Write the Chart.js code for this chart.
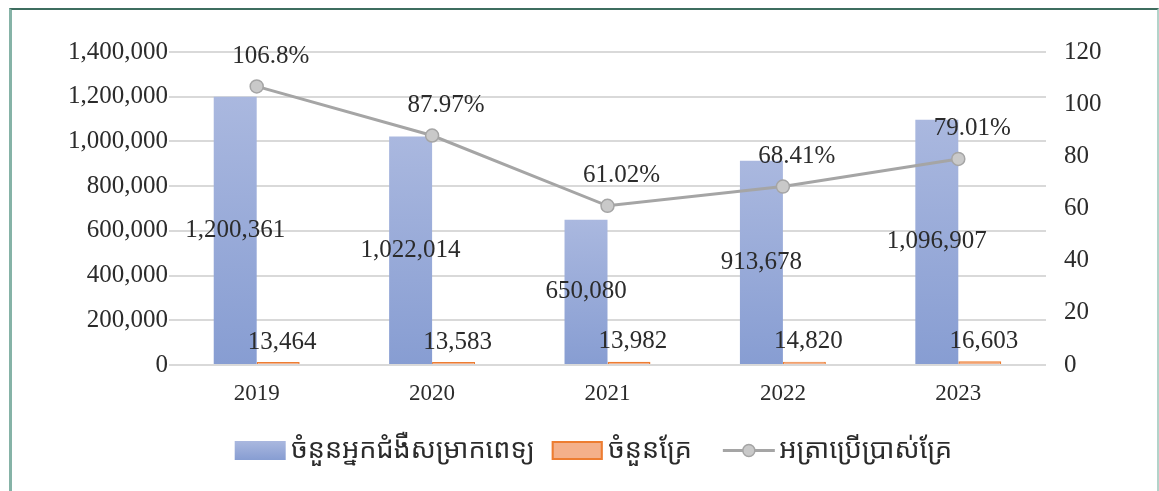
<!DOCTYPE html>
<html>
<head>
<meta charset="utf-8">
<script src="https://cdn.jsdelivr.net/npm/chart.js@4/dist/chart.umd.min.js"></script>
<style>
  html, body { margin: 0; padding: 0; background: #fff; overflow: hidden; }
  #wrap { position: absolute; left: 0; top: 0; width: 1159px; height: 491px; }
  #frame {
    position: absolute; left: 9px; top: 8px; width: 1145px; height: 520px;
    border-top: 2px solid #3e6d5f; border-left: 3px solid #86b3a7; border-right: 2px solid #b3d3ca;
    pointer-events: none;
  }
</style>
</head>
<body>
<div id="wrap"><canvas id="chart" width="1159" height="491"></canvas></div>
<div id="frame"></div>
<script>
// data
var years = ['2019', '2020', '2021', '2022', '2023'];
var patients = [1200361, 1022014, 650080, 913678, 1096907];
var beds = [13464, 13583, 13982, 14820, 16603];
var bedRate = [106.8, 87.97, 61.02, 68.41, 79.01];
var rateLabels = ['106.8%', '87.97%', '61.02%', '68.41%', '79.01%'];
var seriesNames = ['ចំនួនអ្នកជំងឺសម្រាកពេទ្យ', 'ចំនួនគ្រែ', 'អត្រាប្រើប្រាស់គ្រែ'];

var SERIF = '"Liberation Serif", "Times New Roman", serif';
var KHMER = '"Khmer OS", "Khmer OS System", "Noto Sans Khmer", "Noto Serif Khmer", "Noto Sans", sans-serif';
var TXT = '#2b2b2b';

function fmt(v) { return Number(v).toLocaleString('en-US'); }

function blueGrad(c, top, bottom) {
    var g = c.createLinearGradient(0, top, 0, bottom);
    g.addColorStop(0, '#aab8df');
    g.addColorStop(1, '#879dd2');
    return g;
}

// blue bars: vertical gradient per bar
function blueFill(ctx) {
    var chart = ctx.chart;
    if (!chart.chartArea || ctx.type !== 'data') return '#98a9d8';
    var y = chart.scales.y;
    var top = y.getPixelForValue(ctx.raw);
    var bottom = y.getPixelForValue(0);
    if (!isFinite(top) || top === bottom) return '#98a9d8';
    return blueGrad(chart.ctx, top, bottom);
}

// data labels + legend symbols drawn by hand (no datalabels plugin offline)
var labelPlugin = {
    id: 'valueLabels',
    afterDatasetsDraw: function (chart) {
        var c = chart.ctx;
        c.save();
        c.font = '25px ' + SERIF;
        c.fillStyle = TXT;
        c.textAlign = 'center';
        c.textBaseline = 'middle';
        chart.getDatasetMeta(0).data.forEach(function (bar, i) {
            c.fillText(fmt(patients[i]), bar.x, (bar.y + bar.base) / 2);
        });
        chart.getDatasetMeta(1).data.forEach(function (bar, i) {
            c.fillText(fmt(beds[i]), bar.x + 4, bar.y - 20);
        });
        chart.getDatasetMeta(2).data.forEach(function (pt, i) {
            c.fillText(rateLabels[i], pt.x + 14, pt.y - 30);
        });
        c.restore();
    },
    afterDraw: function (chart) {
        var lg = chart.legend;
        if (!lg || !lg.legendHitBoxes) return;
        var c = chart.ctx;
        c.save();
        lg.legendItems.forEach(function (it, k) {
            var hb = lg.legendHitBoxes[k];
            if (!hb) return;
            var cy = hb.top + hb.height / 2;
            var x0 = hb.left, w = 51, h = 19, y0 = cy - h / 2;
            if (it.datasetIndex === 0) {
                c.fillStyle = blueGrad(c, y0, y0 + h);
                c.fillRect(x0, y0, w, h);
            } else if (it.datasetIndex === 1) {
                c.fillStyle = '#f4b08a';
                c.fillRect(x0, y0, w, h);
                c.strokeStyle = '#ed7d31';
                c.lineWidth = 2;
                c.strokeRect(x0 + 1, y0 + 1, w - 2, h - 2);
            } else {
                c.strokeStyle = '#a5a5a5';
                c.lineWidth = 3;
                c.beginPath(); c.moveTo(x0, cy); c.lineTo(x0 + 52, cy); c.stroke();
                c.beginPath(); c.arc(x0 + 26, cy, 6, 0, Math.PI * 2);
                c.fillStyle = '#c9c9c9'; c.fill();
                c.lineWidth = 1.5; c.strokeStyle = '#a5a5a5'; c.stroke();
            }
        });
        c.restore();
    }
};

new Chart(document.getElementById('chart'), {
    type: 'bar',
    data: {
        labels: years,
        datasets: [
            {
                label: seriesNames[0],
                data: patients,
                backgroundColor: blueFill,
                borderWidth: 0,
                yAxisID: 'y',
                order: 2
            },
            {
                label: seriesNames[1],
                data: beds,
                backgroundColor: '#f4b08a',
                borderColor: '#ed7d31',
                borderWidth: 1.5,
                yAxisID: 'y',
                order: 2
            },
            {
                type: 'line',
                label: seriesNames[2],
                data: bedRate,
                borderColor: '#a5a5a5',
                borderWidth: 3,
                backgroundColor: '#c9c9c9',
                pointBackgroundColor: '#c9c9c9',
                pointBorderColor: '#a5a5a5',
                pointBorderWidth: 1.5,
                pointRadius: 6.5,
                tension: 0,
                yAxisID: 'y1',
                order: 1
            }
        ]
    },
    options: {
        responsive: false,
        animation: false,
        devicePixelRatio: 1,
        datasets: { bar: { barPercentage: 1, categoryPercentage: 0.49 } },
        layout: { padding: { top: 52, left: 0, right: 0, bottom: 17 } },
        plugins: {
            tooltip: { enabled: false },
            legend: {
                position: 'bottom',
                fullSize: false,
                labels: {
                    color: TXT,
                    font: { family: KHMER, size: 27 },
                    boxWidth: 43,
                    boxHeight: 19,
                    padding: 17,
                    generateLabels: function (chart) {
                        var items = Chart.defaults.plugins.legend.labels.generateLabels(chart);
                        items.sort(function (a, b) { return a.datasetIndex - b.datasetIndex; });
                        items.forEach(function (it) {
                            it.fillStyle = 'rgba(0,0,0,0)';
                            it.strokeStyle = 'rgba(0,0,0,0)';
                            it.lineWidth = 0;
                        });
                        items[1].text = items[1].text + '  ';
                        items[2].text = items[2].text + '    ';
                        return items;
                    }
                }
            }
        },
        scales: {
            x: {
                grid: { display: false },
                border: { display: false },
                ticks: { color: TXT, font: { family: SERIF, size: 23 }, padding: 7 },
                afterFit: function (s) { s.height = 55; }
            },
            y: {
                position: 'left',
                min: 0,
                max: 1400000,
                ticks: {
                    stepSize: 200000,
                    color: TXT,
                    font: { family: SERIF, size: 25 },
                    padding: 1,
                    callback: function (v) { return fmt(v); }
                },
                grid: { color: '#d9d9d9', lineWidth: 2, drawTicks: false },
                border: { display: false },
                afterFit: function (s) { s.width = 169; }
            },
            y1: {
                position: 'right',
                min: 0,
                max: 120,
                ticks: { stepSize: 20, color: TXT, font: { family: SERIF, size: 25 }, padding: 18 },
                grid: { drawOnChartArea: false, drawTicks: false },
                border: { display: false },
                afterFit: function (s) { s.width = 113; }
            }
        }
    },
    plugins: [labelPlugin]
});
</script>
</body>
</html>
